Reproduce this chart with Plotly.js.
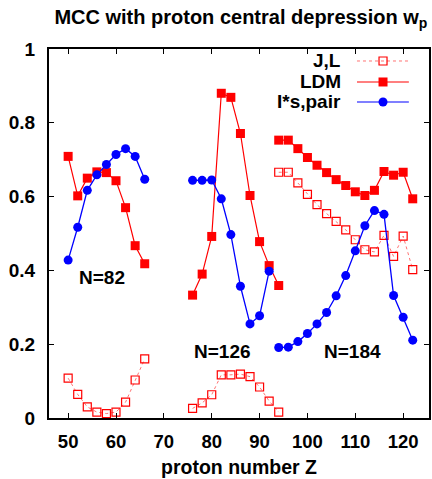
<!DOCTYPE html>
<html>
<head>
<meta charset="utf-8">
<script src="https://cdn.plot.ly/plotly-3.0.1.min.js"></script>
<style>html,body{margin:0;padding:0;background:#fff;}#chart{width:432px;height:479px;}</style>
</head>
<body>
<div id="chart"></div>
<script>
// ---- data ----
const Z82  = [50, 52, 54, 56, 58, 60, 62, 64, 66];
const JL82  = [0.108, 0.064, 0.030, 0.016, 0.012, 0.016, 0.043, 0.103, 0.160];
const LDM82 = [0.709, 0.602, 0.650, 0.667, 0.665, 0.643, 0.570, 0.467, 0.418];
const IS82  = [0.428, 0.517, 0.617, 0.659, 0.687, 0.714, 0.730, 0.709, 0.647];

const Z126   = [76, 78, 80, 82, 84, 86, 88, 90, 92, 94];
const JL126  = [0.026, 0.041, 0.063, 0.117, 0.117, 0.119, 0.112, 0.084, 0.046, 0.016];
const LDM126 = [0.333, 0.390, 0.492, 0.880, 0.869, 0.771, 0.603, 0.478, 0.413, 0.359];
const ZIS126 = [76, 78, 80, 82, 84, 86, 88, 90, 92];
const IS126  = [0.644, 0.644, 0.645, 0.594, 0.497, 0.357, 0.255, 0.277, 0.398];

const Z184   = [94, 96, 98, 100, 102, 104, 106, 108, 110, 112, 114, 116, 118, 120, 122];
const JL184  = [0.666, 0.666, 0.637, 0.606, 0.578, 0.554, 0.533, 0.510, 0.483, 0.456, 0.450, 0.495, 0.438, 0.493, 0.402];
const LDM184 = [0.753, 0.753, 0.730, 0.706, 0.685, 0.665, 0.646, 0.630, 0.613, 0.603, 0.617, 0.668, 0.658, 0.666, 0.594];
const IS184  = [0.191, 0.192, 0.207, 0.229, 0.255, 0.286, 0.331, 0.386, 0.453, 0.521, 0.562, 0.552, 0.332, 0.273, 0.211];

const seriesNames = ["J,L", "LDM", "I*s,pair"];
const groupLabels = ["N=82", "N=126", "N=184"];
const groupLabelX = [57, 82.3, 109.4];
const groupLabelY = [0.38, 0.18, 0.18];
const xTicks = [50, 60, 70, 80, 90, 100, 110, 120];
const yTicks = [0, 0.2, 0.4, 0.6, 0.8, 1];
const yTickText = ["0", "0.2", "0.4", "0.6", "0.8", "1"];

// ---- helpers ----
function joinGroups(xs, ys) {
  const X = [], Y = [];
  xs.forEach((xg, i) => {
    if (i > 0) { X.push(null); Y.push(null); }
    xg.forEach((v, j) => { X.push(v); Y.push(ys[i][j]); });
  });
  return {X, Y};
}

const RED = "#ff0000";
const BLUE = "#0000ff";
const FONT = "Liberation Sans, Arial, Helvetica, sans-serif";

const jl = joinGroups([Z82, Z126, Z184], [JL82, JL126, JL184]);
const ldm = joinGroups([Z82, Z126, Z184], [LDM82, LDM126, LDM184]);
const is = joinGroups([Z82, ZIS126, Z184], [IS82, IS126, IS184]);

const traces = [
  {x: jl.X, y: jl.Y, name: seriesNames[0], type: "scatter", mode: "lines+markers",
   line: {color: "rgba(255,0,0,0.55)", width: 1, dash: "dot"},
   marker: {symbol: "square-open", size: 8, color: RED, line: {width: 1.2, color: RED}},
   connectgaps: false, showlegend: false},
  {x: ldm.X, y: ldm.Y, name: seriesNames[1], type: "scatter", mode: "lines+markers",
   line: {color: RED, width: 1.2},
   marker: {symbol: "square", size: 9, color: RED},
   connectgaps: false, showlegend: false},
  {x: is.X, y: is.Y, name: seriesNames[2], type: "scatter", mode: "lines+markers",
   line: {color: BLUE, width: 1.3},
   marker: {symbol: "circle", size: 9, color: BLUE},
   connectgaps: false, showlegend: false}
];

// ---- custom legend (gnuplot style: text right, sample left->right) ----
const legY = [0.9675, 0.9106, 0.8564];
const legTextX = 0.7737, legX0 = 0.8105, legX1 = 0.947, legMX = 0.879;
const shapes = [];
const annotations = [];
const legColors = [RED, RED, BLUE];
seriesNames.forEach((n, i) => {
  annotations.push({xref: "paper", yref: "paper", x: legTextX, y: legY[i], xanchor: "right", yanchor: "middle",
    text: n, showarrow: false, font: {family: FONT, size: 19, color: "#000", weight: "bold"}});
  shapes.push({type: "line", xref: "paper", yref: "paper", x0: legX0, x1: legX1, y0: legY[i], y1: legY[i],
    line: {color: i === 0 ? "rgba(255,0,0,0.55)" : legColors[i], width: i === 0 ? 1 : 1.2, dash: i === 0 ? "dot" : "solid"}});
});
// markers
shapes.push({type: "rect", xref: "paper", yref: "paper", xsizemode: "pixel", ysizemode: "pixel",
  xanchor: legMX, yanchor: legY[0], x0: -4, x1: 4, y0: -4, y1: 4,
  line: {color: RED, width: 1.2}, fillcolor: "rgba(0,0,0,0)"});
shapes.push({type: "rect", xref: "paper", yref: "paper", xsizemode: "pixel", ysizemode: "pixel",
  xanchor: legMX, yanchor: legY[1], x0: -4.5, x1: 4.5, y0: -4.5, y1: 4.5,
  line: {color: RED, width: 0}, fillcolor: RED});
shapes.push({type: "circle", xref: "paper", yref: "paper", xsizemode: "pixel", ysizemode: "pixel",
  xanchor: legMX, yanchor: legY[2], x0: -4.5, x1: 4.5, y0: -4.5, y1: 4.5,
  line: {color: BLUE, width: 0}, fillcolor: BLUE});

groupLabels.forEach((t, i) => {
  annotations.push({xref: "x", yref: "y", x: groupLabelX[i], y: groupLabelY[i], text: t, showarrow: false,
    xanchor: "center", yanchor: "middle", font: {family: FONT, size: 19, color: "#000", weight: "bold"}});
});

const layout = {
  width: 432, height: 479,
  margin: {l: 49, r: 3, t: 49, b: 61, pad: 0},
  paper_bgcolor: "#fff", plot_bgcolor: "#fff",
  font: {family: FONT, color: "#000"},
  title: {text: "MCC with proton central depression w<sub>p</sub>", x: 0.505, xref: "paper", xanchor: "center",
    y: 0.964, yref: "container", yanchor: "middle", font: {family: FONT, size: 20, weight: "bold", color: "#000"}},
  xaxis: {range: [46, 125.4], tickvals: xTicks, ticktext: xTicks.map(String), ticks: "inside", ticklen: 5,
    tickcolor: "#000", tickwidth: 1, mirror: "ticks", showline: true, linecolor: "#000", linewidth: 2,
    showgrid: false, zeroline: false, ticklabelstandoff: 6,
    tickfont: {family: FONT, size: 18.5, weight: "bold", color: "#000"},
    title: {text: "proton number Z", font: {family: FONT, size: 19.5, weight: "bold", color: "#000"}, standoff: 9}},
  yaxis: {range: [0, 1], tickvals: yTicks, ticktext: yTickText, ticks: "inside", ticklen: 5,
    tickcolor: "#000", tickwidth: 1, mirror: "ticks", showline: true, linecolor: "#000", linewidth: 2,
    showgrid: false, zeroline: false, ticklabelstandoff: 8,
    tickfont: {family: FONT, size: 19, weight: "bold", color: "#000"}},
  shapes: shapes,
  annotations: annotations,
  showlegend: false
};

Plotly.newPlot("chart", traces, layout, {displayModeBar: false, staticPlot: true});
</script>
</body>
</html>
